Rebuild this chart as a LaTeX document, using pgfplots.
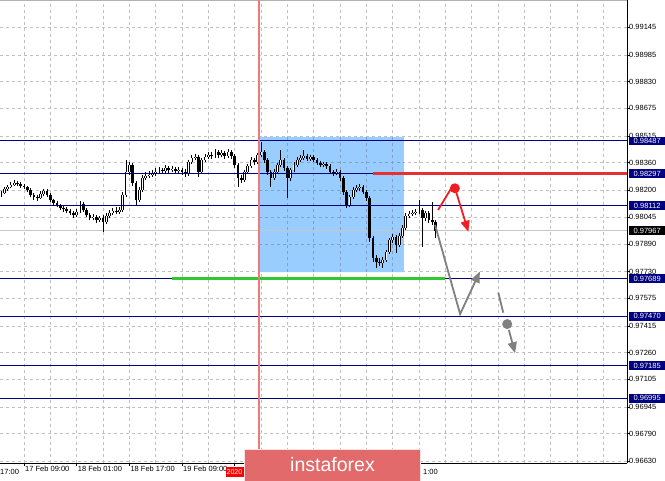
\documentclass[border=0pt]{standalone}
\usepackage{fontspec}
\setmainfont{Liberation Sans}
\usepackage{pgfplots}
\pgfplotsset{compat=1.18}
\usepackage{pgfplotstable}
\usetikzlibrary{arrows.meta}

\definecolor{navyl}{RGB}{0,0,128}
\definecolor{gridc}{RGB}{192,192,192}
\definecolor{gridd}{RGB}{130,160,200}
\definecolor{rectc}{RGB}{153,204,255}
\definecolor{lvlred}{RGB}{232,48,48}
\definecolor{lvlgreen}{RGB}{50,200,50}
\definecolor{banner}{RGB}{226,106,106}
\definecolor{vline}{RGB}{240,120,120}
\definecolor{arrred}{RGB}{238,30,36}
\definecolor{arrgray}{RGB}{128,128,128}
\newcommand\tickfont{\fontsize{7.5}{9}\selectfont}

\pgfplotstableread{
t o h l c
-7 0.98173 0.98196 0.98161 0.98185
-6 0.98185 0.98219 0.98179 0.98208
-5 0.98208 0.98231 0.98196 0.98219
-4 0.98219 0.98248 0.98214 0.98231
-3 0.98231 0.98260 0.98225 0.98243
-2 0.98243 0.98254 0.98225 0.98237
-1 0.98237 0.98248 0.98214 0.98225
0 0.98225 0.98237 0.98208 0.98219
1 0.98219 0.98225 0.98190 0.98202
2 0.98202 0.98214 0.98161 0.98173
3 0.98173 0.98185 0.98144 0.98161
4 0.98161 0.98173 0.98138 0.98156
5 0.98156 0.98196 0.98150 0.98179
6 0.98179 0.98208 0.98167 0.98196
7 0.98196 0.98208 0.98161 0.98173
8 0.98173 0.98185 0.98132 0.98144
9 0.98144 0.98150 0.98115 0.98127
10 0.98127 0.98138 0.98103 0.98115
11 0.98115 0.98121 0.98086 0.98098
12 0.98098 0.98109 0.98075 0.98092
13 0.98092 0.98103 0.98069 0.98080
14 0.98080 0.98092 0.98057 0.98069
15 0.98069 0.98080 0.98040 0.98057
16 0.98057 0.98092 0.98046 0.98075
17 0.98075 0.98138 0.98069 0.98121
18 0.98121 0.98132 0.98075 0.98086
19 0.98086 0.98098 0.98046 0.98057
20 0.98057 0.98069 0.98028 0.98040
21 0.98040 0.98063 0.98028 0.98046
22 0.98046 0.98057 0.98011 0.98028
23 0.98028 0.98051 0.98017 0.98040
24 0.98040 0.98057 0.97959 0.98017
25 0.98017 0.98069 0.98005 0.98051
26 0.98051 0.98086 0.98040 0.98069
27 0.98069 0.98098 0.98057 0.98080
28 0.98080 0.98103 0.98063 0.98075
29 0.98075 0.98103 0.98063 0.98086
30 0.98086 0.98190 0.98075 0.98173
31 0.98173 0.98376 0.98161 0.98306
32 0.98306 0.98364 0.98289 0.98347
33 0.98347 0.98358 0.98225 0.98243
34 0.98243 0.98254 0.98115 0.98144
35 0.98144 0.98219 0.98132 0.98202
36 0.98202 0.98289 0.98190 0.98271
37 0.98271 0.98306 0.98260 0.98283
38 0.98283 0.98312 0.98271 0.98289
39 0.98289 0.98318 0.98277 0.98300
40 0.98300 0.98329 0.98283 0.98306
41 0.98306 0.98335 0.98295 0.98318
42 0.98318 0.98329 0.98295 0.98312
43 0.98312 0.98347 0.98300 0.98329
44 0.98329 0.98341 0.98300 0.98318
45 0.98318 0.98341 0.98306 0.98324
46 0.98324 0.98335 0.98295 0.98312
47 0.98312 0.98335 0.98300 0.98318
48 0.98318 0.98329 0.98289 0.98306
49 0.98306 0.98324 0.98277 0.98295
50 0.98295 0.98376 0.98283 0.98364
51 0.98364 0.98405 0.98353 0.98387
52 0.98387 0.98411 0.98376 0.98393
53 0.98393 0.98405 0.98277 0.98306
54 0.98306 0.98387 0.98295 0.98376
55 0.98376 0.98411 0.98364 0.98393
56 0.98393 0.98422 0.98382 0.98405
57 0.98405 0.98422 0.98382 0.98399
58 0.98399 0.98440 0.98387 0.98422
59 0.98422 0.98434 0.98387 0.98405
60 0.98405 0.98434 0.98393 0.98416
61 0.98416 0.98428 0.98382 0.98399
62 0.98399 0.98440 0.98387 0.98422
63 0.98422 0.98434 0.98382 0.98399
64 0.98399 0.98411 0.98329 0.98347
65 0.98347 0.98358 0.98219 0.98271
66 0.98271 0.98289 0.98243 0.98260
67 0.98260 0.98318 0.98248 0.98306
68 0.98306 0.98353 0.98295 0.98341
69 0.98341 0.98393 0.98329 0.98376
70 0.98376 0.98387 0.98347 0.98364
71 0.98364 0.98416 0.98353 0.98405
72 0.98405 0.98480 0.98393 0.98422
73 0.98422 0.98434 0.98358 0.98376
74 0.98376 0.98387 0.98289 0.98306
75 0.98306 0.98318 0.98219 0.98271
76 0.98271 0.98324 0.98260 0.98306
77 0.98306 0.98358 0.98295 0.98347
78 0.98347 0.98434 0.98335 0.98376
79 0.98376 0.98387 0.98312 0.98329
80 0.98329 0.98341 0.98156 0.98271
81 0.98271 0.98329 0.98254 0.98318
82 0.98318 0.98364 0.98306 0.98347
83 0.98347 0.98393 0.98335 0.98376
84 0.98376 0.98405 0.98364 0.98387
85 0.98387 0.98434 0.98376 0.98399
86 0.98399 0.98411 0.98370 0.98382
87 0.98382 0.98405 0.98370 0.98393
88 0.98393 0.98405 0.98364 0.98376
89 0.98376 0.98387 0.98347 0.98358
90 0.98358 0.98370 0.98335 0.98347
91 0.98347 0.98364 0.98335 0.98353
92 0.98353 0.98364 0.98324 0.98341
93 0.98341 0.98353 0.98295 0.98306
94 0.98306 0.98318 0.98283 0.98300
95 0.98300 0.98324 0.98289 0.98306
96 0.98306 0.98318 0.98254 0.98271
97 0.98271 0.98283 0.98173 0.98190
98 0.98190 0.98202 0.98098 0.98115
99 0.98115 0.98173 0.98103 0.98161
100 0.98161 0.98219 0.98150 0.98202
101 0.98202 0.98231 0.98190 0.98214
102 0.98214 0.98237 0.98196 0.98219
103 0.98219 0.98231 0.98179 0.98190
104 0.98190 0.98202 0.98138 0.98156
105 0.98156 0.98167 0.97901 0.97924
106 0.97924 0.97935 0.97785 0.97808
107 0.97808 0.97825 0.97750 0.97785
108 0.97785 0.97808 0.97762 0.97779
109 0.97779 0.97814 0.97750 0.97796
110 0.97796 0.97854 0.97785 0.97843
111 0.97843 0.97924 0.97831 0.97912
112 0.97912 0.97947 0.97895 0.97930
113 0.97930 0.97941 0.97837 0.97883
114 0.97883 0.97953 0.97872 0.97935
115 0.97935 0.97999 0.97924 0.97982
116 0.97982 0.98069 0.97970 0.98051
117 0.98051 0.98080 0.98040 0.98063
118 0.98063 0.98086 0.98051 0.98069
119 0.98069 0.98092 0.98057 0.98075
120 0.98075 0.98144 0.98063 0.98086
121 0.98086 0.98098 0.97872 0.98040
122 0.98040 0.98080 0.98022 0.98069
123 0.98069 0.98080 0.98011 0.98028
124 0.98028 0.98132 0.97999 0.98017
125 0.98017 0.98028 0.97924 0.97967
}\candles

\begin{document}
\begin{tikzpicture}
\fill[white] (0pt,0pt) rectangle (665pt,481pt);
\begin{axis}[
  at={(0pt,18pt)}, anchor=south west,
  scale only axis, width=627pt, height=463pt,
  xmin=-7.3, xmax=183.2, ymin=0.96620, ymax=0.99303,
  axis x line*=bottom, axis y line*=right,
  axis line style={black, line width=0.8pt},
  tick align=outside, major tick length=3pt, minor tick length=0pt,
  tick style={black, line width=0.6pt},
  xtick={0,16,32,48,64,80,96,112},
  xticklabels={17 Feb 09:00,18 Feb 01:00,18 Feb 17:00,19 Feb 09:00,,,,},
  minor x tick num=1,
  extra x ticks={120,128,136,144,152,160,168,176},
  extra x tick labels={},
  extra x tick style={major tick length=0pt},
  ytick={0.96630,0.96790,0.96945,0.97105,0.97260,0.97415,0.97575,0.97730,0.97890,0.98045,0.98200,0.98360,0.98515,0.98675,0.98830,0.98985,0.99145},
  yticklabels={0.96630,0.96790,0.96945,0.97105,0.97260,0.97415,0.97575,0.97730,0.97890,0.98045,0.98200,0.98360,0.98515,0.98675,0.98830,0.98985,0.99145},
  xmajorgrids, xminorgrids, ymajorgrids,
  major grid style={gridc, dash pattern=on 3pt off 3pt, line width=0.6pt},
  minor grid style={gridc, dash pattern=on 3pt off 3pt, line width=0.6pt},
  xticklabel style={font=\tickfont, anchor=north west, inner sep=0pt, xshift=1pt},
  yticklabel style={font=\tickfont, anchor=west, inner sep=0pt, xshift=-1pt},
]
% selection rectangle
\addplot[fill=rectc, draw=none, forget plot]
  coordinates {(71.4,0.98508) (115.4,0.98508) (115.4,0.97726) (71.4,0.97726) (71.4,0.98508)};
% grid seen through the rectangle
\addplot[gridd, dash pattern=on 3pt off 3pt, line width=0.6pt, forget plot] coordinates {(71.4,0.97890) (115.4,0.97890)};
\addplot[gridd, dash pattern=on 3pt off 3pt, line width=0.6pt, forget plot] coordinates {(71.4,0.98045) (115.4,0.98045)};
\addplot[gridd, dash pattern=on 3pt off 3pt, line width=0.6pt, forget plot] coordinates {(71.4,0.98200) (115.4,0.98200)};
\addplot[gridd, dash pattern=on 3pt off 3pt, line width=0.6pt, forget plot] coordinates {(71.4,0.98360) (115.4,0.98360)};
\addplot[gridd, dash pattern=on 3pt off 3pt, line width=0.6pt, forget plot] coordinates {(80,0.97726) (80,0.98508)};
\addplot[gridd, dash pattern=on 3pt off 3pt, line width=0.6pt, forget plot] coordinates {(88,0.97726) (88,0.98508)};
\addplot[gridd, dash pattern=on 3pt off 3pt, line width=0.6pt, forget plot] coordinates {(96,0.97726) (96,0.98508)};
\addplot[gridd, dash pattern=on 3pt off 3pt, line width=0.6pt, forget plot] coordinates {(104,0.97726) (104,0.98508)};
\addplot[gridd, dash pattern=on 3pt off 3pt, line width=0.6pt, forget plot] coordinates {(112,0.97726) (112,0.98508)};
% current price line
\addplot[gray!45, line width=0.8pt, forget plot] coordinates {(-7.3,0.97967) (183.2,0.97967)};
% wicks
\addplot[black, line width=0.8pt, mark=none, forget plot,
  quiver={u={0}, v={\thisrow{h}-\thisrow{l}}, every arrow/.append style={line width=0.8pt, line cap=butt}}]
  table[x=t, y=l] {\candles};
% all bodies in black
\addplot[black, line width=2.7pt, mark=none, forget plot,
  quiver={u={0}, v={abs(\thisrow{c}-\thisrow{o})}, every arrow/.append style={line width=2.7pt, line cap=butt}}]
  table[x=t, y expr={min(\thisrow{o},\thisrow{c})}] {\candles};
% hollow inside of the rising bodies
\addplot[white, line width=1.0pt, mark=none, forget plot,
  quiver={u={0}, v={max(\thisrow{c}-\thisrow{o},0)}, every arrow/.append style={line width=1.0pt, line cap=butt}}]
  table[x=t, y=o] {\candles};
% horizontal levels
\addplot[navyl, line width=0.9pt, forget plot] coordinates {(-7.3,0.98487) (183.2,0.98487)};
\addplot[navyl, line width=0.9pt, forget plot] coordinates {(-7.3,0.98297) (183.2,0.98297)};
\addplot[navyl, line width=0.9pt, forget plot] coordinates {(-7.3,0.98112) (183.2,0.98112)};
\addplot[navyl, line width=0.9pt, forget plot] coordinates {(-7.3,0.97689) (183.2,0.97689)};
\addplot[navyl, line width=0.9pt, forget plot] coordinates {(-7.3,0.97470) (183.2,0.97470)};
\addplot[navyl, line width=0.9pt, forget plot] coordinates {(-7.3,0.97185) (183.2,0.97185)};
\addplot[navyl, line width=0.9pt, forget plot] coordinates {(-7.3,0.96995) (183.2,0.96995)};
\addplot[lvlred, line width=2.4pt, forget plot] coordinates {(106.1,0.98297) (183.2,0.98297)};
\addplot[lvlgreen, line width=2.2pt, forget plot] coordinates {(45,0.97689) (127.9,0.97689)};
% scenario arrows
\draw[arrred, line width=1.8pt] (axis cs:125.8,0.98086) -- (axis cs:129.6,0.98206);
\fill[arrred] (axis cs:130.9,0.98212) circle[radius=5pt];
\draw[arrred, line width=1.8pt, -{Triangle[width=9pt,length=11pt]}] (axis cs:131.3,0.98190) -- (axis cs:135.0,0.97960);
\draw[arrgray, line width=1.8pt, -{Triangle[width=9pt,length=11pt]}] (axis cs:124.9,0.97999) -- (axis cs:132.5,0.97483) -- (axis cs:138.5,0.97729);
\draw[arrgray, line width=1.8pt] (axis cs:144.1,0.97607) -- (axis cs:145.6,0.97491);
\fill[arrgray] (axis cs:146.8,0.97425) circle[radius=5pt];
\draw[arrgray, line width=1.8pt, -{Triangle[width=9pt,length=11pt]}] (axis cs:147.3,0.97391) -- (axis cs:149.2,0.97256);
% anchors for price boxes
\coordinate (b1) at (axis cs:183.2,0.98487);
\coordinate (b2) at (axis cs:183.2,0.98297);
\coordinate (b3) at (axis cs:183.2,0.98112);
\coordinate (b4) at (axis cs:183.2,0.97967);
\coordinate (b5) at (axis cs:183.2,0.97689);
\coordinate (b6) at (axis cs:183.2,0.97470);
\coordinate (b7) at (axis cs:183.2,0.97185);
\coordinate (b8) at (axis cs:183.2,0.96995);
\end{axis}
% top border
\draw[gray!60, line width=0.8pt] (0pt,480.4pt) -- (627pt,480.4pt);
% red vertical line
\draw[vline, line width=1.3pt] (259pt,481pt) -- (259pt,14pt);
% price boxes
\tikzset{pbox/.style={fill=navyl, text=white, font=\tickfont, anchor=west, inner sep=0pt, minimum height=8.5pt, minimum width=36pt}}
\node[pbox] at ([xshift=2pt]b1) {0.98487};
\node[pbox] at ([xshift=2pt]b2) {0.98297};
\node[pbox] at ([xshift=2pt]b3) {0.98112};
\node[pbox, fill=black] at ([xshift=2pt]b4) {0.97967};
\node[pbox] at ([xshift=2pt]b5) {0.97689};
\node[pbox] at ([xshift=2pt]b6) {0.97470};
\node[pbox] at ([xshift=2pt]b7) {0.97185};
\node[pbox] at ([xshift=2pt]b8) {0.96995};
% partial first date label and the visible end of the last one
\node[font=\tickfont, anchor=north west, inner sep=0pt] at (0pt,12pt) {17:00};
\node[font=\tickfont, anchor=north west, inner sep=0pt] at (423pt,12pt) {1:00};
% red date label of the vertical line
\fill[red] (226pt,4pt) rectangle (244pt,14pt);
\node[font=\fontsize{7}{8}\selectfont, text=white, anchor=west, inner sep=0pt] at (226.5pt,9pt) {2020};
% banner
\fill[banner] (244pt,0pt) rectangle (421pt,32pt);
\draw[white!80!banner, line width=0.6pt] (244.3pt,0pt) -- (244.3pt,31.7pt) -- (420.7pt,31.7pt) -- (420.7pt,0pt);
\node[font=\fontsize{19.5}{22}\selectfont, text=white, inner sep=0pt] at (332.5pt,16pt) {instaforex};
\pgfresetboundingbox
\path[use as bounding box] (0pt,0pt) rectangle (665pt,481pt);
\end{tikzpicture}
\end{document}
